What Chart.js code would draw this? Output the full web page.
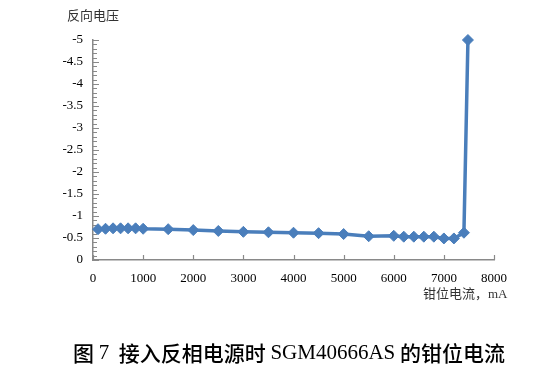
<!DOCTYPE html>
<html lang="zh">

<head>
    <meta charset="UTF-8">
    <title>SGM40666AS 钳位电流</title>
    <style>
        body { margin: 0; background: #fff; }
    </style>
</head>

<body>
    <canvas id="clampChart" width="559" height="382"></canvas>

    <script src="https://cdn.jsdelivr.net/npm/chart.js"></script>
    <script>
        // data
        const currents = [100, 250, 400, 550, 700, 850, 1000, 1500, 2000, 2500, 3000, 3500, 4000, 4500, 5000, 5500, 6000, 6200, 6400, 6600, 6800, 7000, 7200, 7400, 7480];
        const voltages = [-0.70, -0.71, -0.72, -0.72, -0.72, -0.72, -0.71, -0.70, -0.68, -0.66, -0.64, -0.63, -0.62, -0.61, -0.59, -0.54, -0.55, -0.53, -0.53, -0.53, -0.53, -0.49, -0.49, -0.62, -5];
        const xTicks = [0, 1000, 2000, 3000, 4000, 5000, 6000, 7000, 8000];
        const yTicks = [0, -0.5, -1, -1.5, -2, -2.5, -3, -3.5, -4, -4.5, -5];

        const yTitle = '反向电压';
        const xTitle = '钳位电流，mA';
        const caption = [['图 ', 'cjk'], ['7', 'latin'], ['  接入反相电源时 ', 'cjk'], ['SGM40666AS', 'latin'], [' 的钳位电流', 'cjk']];

        const axisGray = '#898989';
        const lineBlue = '#4A7EBB';
        const serif = '"Liberation Serif", "Noto Sans CJK SC", serif';

        // inward tick marks + the two axis titles + caption
        const extras = {
            id: 'extras',
            beforeDatasetsDraw(chart) {
                const ctx = chart.ctx;
                const x = chart.scales.x, y = chart.scales.y;
                const area = chart.chartArea;
                ctx.save();
                ctx.strokeStyle = axisGray;
                ctx.lineWidth = 1.2;
                ctx.beginPath();
                // minor ticks every 0.1, major every 0.5
                for (let i = 0; i <= 50; i++) {
                    const py = Math.round(y.getPixelForValue(-i / 10)) + 0.5;
                    const len = i % 5 === 0 ? 6 : 4;
                    ctx.moveTo(area.left, py);
                    ctx.lineTo(area.left + len, py);
                }
                xTicks.forEach(v => {
                    const px = Math.round(x.getPixelForValue(v)) + 0.5;
                    ctx.moveTo(px, area.bottom);
                    ctx.lineTo(px, area.bottom - 5);
                });
                ctx.stroke();
                ctx.restore();
            },
            afterDraw(chart) {
                const ctx = chart.ctx;
                ctx.save();
                ctx.fillStyle = '#333';
                ctx.textBaseline = 'middle';
                ctx.textAlign = 'left';
                ctx.font = '13px "Noto Sans CJK SC"';
                ctx.fillText(yTitle, 67, 15);
                ctx.font = '13px ' + serif;
                ctx.fillText(xTitle, 423, 295);

                // caption, mixed fonts
                ctx.fillStyle = '#000';
                const fonts = { cjk: '500 21px "Noto Sans CJK SC"', latin: '21px "Liberation Serif"' };
                let total = 0;
                caption.forEach(([t, f]) => { ctx.font = fonts[f]; total += ctx.measureText(t).width; });
                let cx = 289 - total / 2;
                caption.forEach(([t, f]) => {
                    ctx.font = fonts[f];
                    ctx.fillText(t, cx, 353);
                    cx += ctx.measureText(t).width;
                });
                ctx.restore();
            }
        };

        new Chart(document.getElementById('clampChart'), {
            type: 'line',
            data: {
                datasets: [{
                    data: currents.map((c, i) => ({ x: c, y: voltages[i] })),
                    borderColor: lineBlue,
                    backgroundColor: lineBlue,
                    borderWidth: 3.5,
                    pointStyle: 'rectRot',
                    pointRadius: 5.5,
                    pointBorderWidth: 1,
                    tension: 0,
                    fill: false,
                    clip: false
                }]
            },
            options: {
                responsive: false,
                animation: false,
                layout: { padding: { left: 0, right: 65, top: 40, bottom: 0 } },
                plugins: {
                    legend: { display: false },
                    tooltip: { enabled: false }
                },
                scales: {
                    x: {
                        type: 'linear',
                        min: 0,
                        max: 8000,
                        afterBuildTicks: s => { s.ticks = xTicks.map(v => ({ value: v })); },
                        afterFit: s => { s.height = 122; },
                        grid: { drawOnChartArea: false, drawTicks: false },
                        border: { color: axisGray, width: 1.5 },
                        ticks: {
                            color: '#000',
                            padding: 11,
                            maxRotation: 0,
                            font: { family: serif, size: 13 },
                            callback: v => String(v)
                        }
                    },
                    y: {
                        type: 'linear',
                        min: -5,
                        max: 0,
                        reverse: true,
                        afterBuildTicks: s => { s.ticks = yTicks.map(v => ({ value: v })); },
                        afterFit: s => { s.width = 93; },
                        grid: { drawOnChartArea: false, drawTicks: false },
                        border: { color: axisGray, width: 1.5 },
                        ticks: {
                            color: '#000',
                            padding: 10,
                            autoSkip: false,
                            font: { family: serif, size: 13 },
                            callback: v => String(v)
                        }
                    }
                }
            },
            plugins: [extras]
        });
    </script>
</body>

</html>
